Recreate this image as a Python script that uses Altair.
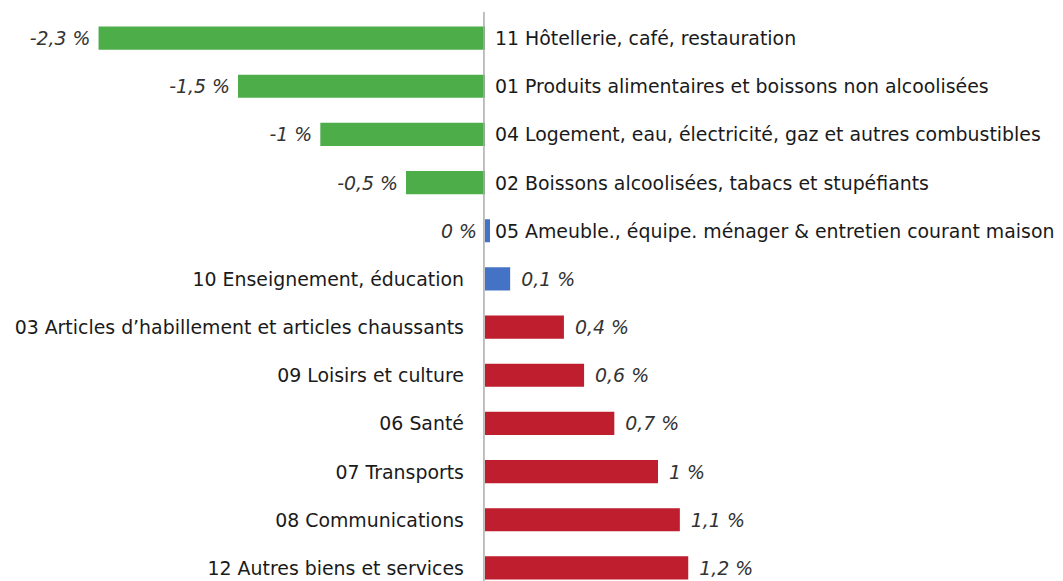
import altair as alt
import pandas as pd

categories = [
    "11 Hôtellerie, café, restauration",
    "01 Produits alimentaires et boissons non alcoolisées",
    "04 Logement, eau, électricité, gaz et autres combustibles",
    "02 Boissons alcoolisées, tabacs et stupéfiants",
    "05 Ameuble., équipe. ménager & entretien courant maison",
    "10 Enseignement, éducation",
    "03 Articles d’habillement et articles chaussants",
    "09 Loisirs et culture",
    "06 Santé",
    "07 Transports",
    "08 Communications",
    "12 Autres biens et services",
]
# bar lengths
values = [-2.3, -1.47, -0.98, -0.47, 0.03, 0.15, 0.47, 0.59, 0.77, 1.03, 1.16, 1.21]
# rounded values printed on the chart
shown = [-2.3, -1.5, -1, -0.5, 0, 0.1, 0.4, 0.6, 0.7, 1, 1.1, 1.2]
groups = ["baisse"] * 4 + ["stable"] * 2 + ["hausse"] * 6

group_names = ["baisse", "stable", "hausse"]
group_colors = ["#4CAD49", "#4472C4", "#BE1E2D"]

df = pd.DataFrame({
    "cat": categories,
    "value": values,
    "shown": shown,
    "group": groups,
})
df["label"] = [f"{v:g}".replace(".", ",") + " %" for v in shown]
df["anchor"] = [min(v, 0) for v in values]
df["left"] = [s <= 0 for s in shown]

FONT = "DejaVu Sans"
FS = 18.9

xscale = alt.Scale(domain=[-2.839, 3.393], nice=False, zero=False)
yscale = alt.Scale(domain=categories, range=[0, 578], paddingInner=0.52, paddingOuter=0.26)

base = alt.Chart(df)
y = alt.Y("cat:N", scale=yscale, axis=None, sort=categories)

bars = base.mark_bar().encode(
    x=alt.X("value:Q", scale=xscale, axis=None),
    x2=alt.datum(0),
    y=y,
    color=alt.Color("group:N", scale=alt.Scale(domain=group_names, range=group_colors), legend=None),
)

axis_line = base.mark_rule(color="#ababab", strokeWidth=1.5).encode(
    x=alt.X("z:Q", scale=xscale),
    y=alt.value(-2),
    y2=alt.value(600),
).transform_calculate(z="-0.006").transform_filter("datum.value == " + str(values[0]))

cat_right = base.transform_filter("datum.left").transform_calculate(zero="0").mark_text(
    align="left", baseline="middle", dx=10, dy=1, font=FONT, fontSize=FS, color="#1a1a1a"
).encode(x=alt.X("zero:Q", scale=xscale), y=y, text="cat:N")

cat_left = base.transform_filter("!datum.left").transform_calculate(zero="0").mark_text(
    align="right", baseline="middle", dx=-21, dy=1, font=FONT, fontSize=FS, color="#1a1a1a"
).encode(x=alt.X("zero:Q", scale=xscale), y=y, text="cat:N")

val_left = base.transform_filter("datum.left").mark_text(
    align="right", baseline="middle", dx=-8, dy=1, font=FONT, fontSize=FS, fontStyle="italic", color="#333333"
).encode(x=alt.X("anchor:Q", scale=xscale), y=y, text="label:N")

val_right = base.transform_filter("!datum.left").mark_text(
    align="left", baseline="middle", dx=11, dy=1, font=FONT, fontSize=FS, fontStyle="italic", color="#333333"
).encode(x=alt.X("value:Q", scale=xscale), y=y, text="label:N")

chart = alt.layer(bars, axis_line, cat_right, cat_left, val_left, val_right).properties(
    width=1047,
    height=567,
    padding={"top": 6, "left": 0, "right": 0, "bottom": 0},
    autosize=alt.AutoSizeParams(type="none"),
).configure_view(stroke=None)

chart.save("out.html", embed_options={"renderer": "svg", "actions": False})
